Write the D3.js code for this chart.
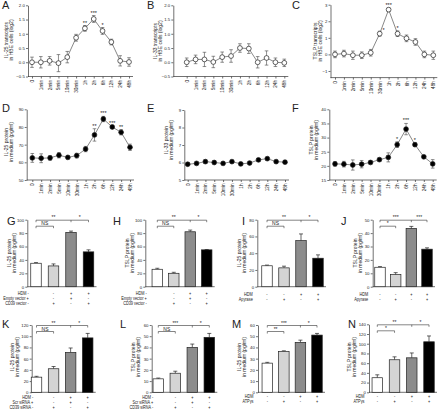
<!DOCTYPE html>
<html><head><meta charset="utf-8">
<script src="https://cdn.jsdelivr.net/npm/d3@7"></script>
<style>
body{margin:0;background:#fff;}
svg text{font-family:"Liberation Sans",Arial,sans-serif;fill:#222;}
</style></head>
<body><svg id="c" width="440" height="414"></svg>
<script>
// ---------- DATA ----------
const timeLabels = ["0","1min","2min","5min","10min","30min","1h","2h","6h","12h","24h","48h"];

const aValues = [0.0, 0.0, 0.05, -0.03, 0.18, 0.86, 1.19, 1.52, 1.1, 0.71, 0.05, 0.01];
const aErrors = [0.18, 0.2, 0.15, 0.3, 0.2, 0.12, 0.1, 0.12, 0.12, 0.1, 0.18, 0.15];
const aSig    = ["","","","","","","**","***","*","","",""];

const bValues = [0.0, 0.1, 0.1, 0.01, 0.18, 0.22, 0.5, 0.48, 0.0, 0.15, 0.0, -0.02];
const bErrors = [0.15, 0.15, 0.25, 0.2, 0.18, 0.22, 0.15, 0.17, 0.2, 0.25, 0.15, 0.13];

const cValues = [0.0, 0.05, -0.05, -0.05, 0.1, 1.25, 2.7, 1.25, 0.97, 0.75, 0.0, -0.05];
const cErrors = [0.2, 0.2, 0.25, 0.2, 0.2, 0.15, 0.1, 0.17, 0.2, 0.2, 0.2, 0.25];
const cSig    = ["","","","","","*","***","*","","","",""];

const dValues = [62.5, 62.3, 62.5, 64.0, 62.8, 63.8, 67.5, 75.5, 84.5, 80.0, 77.0, 68.5];
const dErrors = [2.5, 2.5, 1.3, 1.5, 0.7, 1.3, 1.5, 3.5, 1.5, 0.8, 1.5, 1.8];
const dSig    = ["","","","","","","","**","***","***","**",""];

const eValues = [5.9, 5.95, 6.05, 6.0, 5.95, 6.05, 5.92, 5.97, 6.15, 6.22, 6.05, 6.02];
const eErrors = [0.06, 0.06, 0.1, 0.08, 0.06, 0.06, 0.06, 0.06, 0.07, 0.07, 0.07, 0.08];

const fValues = [20.7, 20.6, 20.3, 20.6, 21.2, 22.2, 23.0, 27.5, 33.0, 27.5, 23.2, 20.7];
const fErrors = [0.8, 1.0, 1.8, 1.3, 0.5, 0.5, 1.6, 1.0, 2.0, 0.6, 0.5, 1.5];
const fSig    = ["","","","","","","","*","***","*","",""];

const aTicks = [-0.5, 0.0, 0.5, 1.0, 1.5, 2.0];
const cTicks = [-1, 0, 1, 2, 3];
const dTicks = [50, 60, 70, 80, 90];
const eTicks = [5, 6, 7, 8, 9];
const fTicks = [15, 20, 25, 30, 35, 40];

const gValues = [35, 31, 81, 52];  const gErrors = [1, 3, 2, 3];
const hValues = [26, 20, 82, 55];  const hErrors = [1.5, 1.5, 2.5, 0.5];
const iValues = [25, 22.5, 55, 34]; const iErrors = [0.8, 2, 8, 4];
const jValues = [14.5, 9, 43.5, 28]; const jErrors = [0.5, 1.5, 1.5, 1];
const kValues = [27, 42, 71, 97];  const kErrors = [1.5, 4, 8, 8];
const lValues = [12, 17, 40, 49];  const lErrors = [0.7, 1.8, 3, 3.5];
const mValues = [26, 36.5, 44.5, 51]; const mErrors = [0.7, 0.5, 2, 1.5];
const nValues = [30, 67, 71, 104]; const nErrors = [6, 6, 10, 12];

const vectorRows = [["HDM","-","-","+","+"],["Empty vector","+","-","+","-"],["CD39 vector","-","+","-","+"]];
const apyraseRows = [["HDM","-","-","+","+"],["Apyrase","-","+","-","+"]];
const sirnaRows = [["HDM","-","-","+","+"],["Scr siRNA","+","-","+","-"],["CD39 siRNA","-","+","-","+"]];
const atpRows = [["HDM","-","-","+","+"],["ATPγs","-","+","-","+"]];

const sigNS  = [["NS","**","*"]];
const sigL   = [["NS","***","*"]];
const sigJ   = [["*","***","***"]];
const sigM   = [["**","***","*"]];
const sigN   = [["*","**","*"]];

const barFills = ["#ffffff","#d4d4d4","#8c8c8c","#000000"];

// ---------- DRAW ----------
const svg = d3.select("#c");
const AX = "#333";
const TF = 4.3; // tick font

function letter(t, x, y){
  svg.append("text").attr("x",x).attr("y",y).attr("font-size",11).text(t);
}
function yTitle(lines, x, y){
  const t = svg.append("text").attr("transform",`translate(${x},${y}) rotate(-90) scale(1,0.9)`)
    .attr("text-anchor","middle").attr("font-size",5);
  lines.forEach((l,i)=> t.append("tspan").attr("x",0).attr("dy", i===0?0:5.6).text(l));
}
function styleAxis(sel){
  sel.selectAll("path,line").attr("stroke",AX).attr("stroke-width",0.7);
  sel.selectAll("text").attr("font-size",TF).attr("fill","#333").attr("font-family","Liberation Sans, Arial, sans-serif");
}

function linePanel(p){
  const x = d3.scalePoint().domain(timeLabels).range([p.x0, p.x1]);
  const y = d3.scaleLinear().domain(p.domain).range([p.yb, p.yt]);
  const g = svg.append("g");
  const ya = g.append("g").attr("transform",`translate(${p.ax},0)`)
    .call(d3.axisLeft(y).tickValues(p.ticks).tickSize(2).tickSizeOuter(0).tickPadding(1.2).tickFormat(p.fmt));
  styleAxis(ya);
  const xa = g.append("g").attr("transform",`translate(0,${p.yb})`)
    .call(d3.axisBottom(x).tickSize(2).tickSizeOuter(0).tickPadding(1));
  xa.select(".domain").remove();
  xa.append("line").attr("x1",p.ax).attr("x2",p.x1+4).attr("y1",0).attr("y2",0);
  styleAxis(xa);
  xa.selectAll(".tick text").attr("font-size",4.7).attr("transform","rotate(-90)").attr("text-anchor","end")
    .attr("dy","0.32em").attr("x",-3.5).attr("y",0);
  const pts = timeLabels.map((t,i)=>({t, v:p.values[i], e:p.errors[i], s:p.sig?p.sig[i]:""}));
  g.append("path").datum(pts).attr("fill","none").attr("stroke","#555").attr("stroke-width",0.7)
    .attr("d", d3.line().x(d=>x(d.t)).y(d=>y(d.v)));
  const eb = g.selectAll(".eb").data(pts).enter().append("g");
  eb.append("line").attr("x1",d=>x(d.t)).attr("x2",d=>x(d.t)).attr("y1",d=>y(d.v-d.e)).attr("y2",d=>y(d.v+d.e))
    .attr("stroke","#444").attr("stroke-width",0.6);
  [-1,1].forEach(sg=>{
    eb.append("line").attr("x1",d=>x(d.t)-1.8).attr("x2",d=>x(d.t)+1.8)
      .attr("y1",d=>y(d.v+sg*d.e)).attr("y2",d=>y(d.v+sg*d.e)).attr("stroke","#444").attr("stroke-width",0.6);
  });
  g.selectAll(".pt").data(pts).enter().append("circle")
    .attr("cx",d=>x(d.t)).attr("cy",d=>y(d.v)).attr("r",2.4)
    .attr("fill",p.open?"#fff":"#000").attr("stroke","#222").attr("stroke-width",0.7);
  g.selectAll(".sg").data(pts.filter(d=>d.s)).enter().append("text")
    .attr("x",d=>x(d.t)+((p.sigDx&&p.sigDx[d.t])||0))
    .attr("y",d=>((p.sigDy&&p.sigDy[d.t]!==undefined)? y(d.v)+p.sigDy[d.t] : y(d.v+d.e)-1))
    .attr("text-anchor","middle").attr("font-size",5.5).text(d=>d.s);
}

function barPanel(p){
  const idx = [0,1,2,3];
  const x = d3.scalePoint().domain(idx).range([p.c0, p.c3]);
  const y = d3.scaleLinear().domain([0,p.max]).range([p.yb, p.yt]);
  const g = svg.append("g");
  const ya = g.append("g").attr("transform",`translate(${p.ax},0)`)
    .call(d3.axisLeft(y).tickValues(d3.range(0,p.max+0.001,p.step)).tickSize(2).tickSizeOuter(0).tickPadding(1.2));
  styleAxis(ya);
  g.append("line").attr("x1",p.ax).attr("x2",p.c3+8).attr("y1",p.yb).attr("y2",p.yb).attr("stroke",AX).attr("stroke-width",0.7);
  const bw = 10.5;
  const bars = idx.map(i=>({i, v:p.values[i], e:p.errors[i]}));
  g.selectAll(".eb").data(bars).enter().append("line")
    .attr("x1",d=>x(d.i)).attr("x2",d=>x(d.i)).attr("y1",d=>y(d.v)).attr("y2",d=>y(d.v+d.e))
    .attr("stroke","#222").attr("stroke-width",0.7);
  g.selectAll(".ec").data(bars).enter().append("line")
    .attr("x1",d=>x(d.i)-2).attr("x2",d=>x(d.i)+2).attr("y1",d=>y(d.v+d.e)).attr("y2",d=>y(d.v+d.e))
    .attr("stroke","#222").attr("stroke-width",0.7);
  g.selectAll(".bar").data(bars).enter().append("rect")
    .attr("x",d=>x(d.i)-bw/2).attr("width",bw).attr("y",d=>y(d.v)).attr("height",d=>p.yb-y(d.v))
    .attr("fill",d=>barFills[d.i]).attr("stroke","#222").attr("stroke-width",0.7);
  // brackets
  const s = p.sig[0];
  const top = p.yt+0.5, low = p.yt+6.5;
  g.append("path").attr("d",`M${x(0)},${low+2}V${low}H${x(1)}V${low+2}`)
      .attr("fill","none").attr("stroke","#333").attr("stroke-width",0.6);
  g.append("path").attr("d",`M${x(0)},${top+2}V${top}H${x(3)}V${top+2}M${x(2)},${top}V${top+2}`)
    .attr("fill","none").attr("stroke","#333").attr("stroke-width",0.6);
  const st = (t,xx,yy)=>g.append("text").attr("x",xx).attr("y",yy).attr("text-anchor","middle").attr("font-size",5).text(t);
  st(s[0], (x(0)+x(1))/2, low-0.8);
  st(s[1], (x(0)+x(2))/2, top-0.8);
  st(s[2], (x(2)+x(3))/2, top-0.8);
  // rows
  const lab = (t,xx,yy,anchor)=>g.append("text").attr("transform",`translate(${xx},${yy}) scale(0.8,1)`)
      .attr("text-anchor",anchor).attr("font-size",4.8).text(t);
  p.rows.forEach((r,k)=>{
    const yy = p.rowY + k*5;
    if(p.attach){
      lab(r[0]+" "+r[1], p.ax+1.5, yy, "end");
    } else {
      lab(r[0], p.ax-4.5, yy, "end");
      lab(r[1], x(0), yy, "middle");
    }
    [1,2,3].forEach(i=> lab(r[i+1], x(i), yy, "middle"));
  });
}

const f1 = d3.format(".1f");
const f0 = d3.format("d");

// Row 1
linePanel({values:aValues, errors:aErrors, sig:aSig, domain:[-0.5,2.0], ticks:aTicks, fmt:f1, ax:28, x0:32, x1:129, yb:76.5, yt:5.3, open:true});
linePanel({values:bValues, errors:bErrors, domain:[-0.5,2.0], ticks:aTicks, fmt:f1, ax:173.3, x0:186.7, x1:284.3, yb:76.5, yt:5.3, open:true});
linePanel({values:cValues, errors:cErrors, sig:cSig, domain:[-1.4,3], ticks:cTicks, fmt:f0, ax:330.5, x0:335, x1:433.3, yb:77.6, yt:4.7, open:true,
  sigDx:{"30min":4}, sigDy:{"30min":-1.5}});
// Row 2
linePanel({values:dValues, errors:dErrors, sig:dSig, domain:[50,90], ticks:dTicks, fmt:f0, ax:26.7, x0:32.3, x1:130, yb:180, yt:109.3, open:false});
linePanel({values:eValues, errors:eErrors, domain:[5,9], ticks:eTicks, fmt:f0, ax:184.3, x0:187.7, x1:285, yb:180, yt:110, open:false});
linePanel({values:fValues, errors:fErrors, sig:fSig, domain:[15,40], ticks:fTicks, fmt:f0, ax:329.3, x0:335, x1:432.7, yb:180, yt:109.3, open:false});

letter("A",2,9); letter("B",147,9); letter("C",292,9);
letter("D",2,112); letter("E",147,112); letter("F",292,112);
yTitle(["IL-25 transcripts","in HBE cells (log2)"], 8, 40);
yTitle(["IL-33 transcripts","in HBE cells (log2)"], 156.5, 41);
yTitle(["TSLP transcripts","in HBE cells (log2)"], 317, 41);
yTitle(["IL-25 protein","in medium (pg/ml)"], 8, 142);
yTitle(["IL-33 protein","in medium (pg/ml)"], 168, 140);
yTitle(["TSLP protein","in medium (pg/ml)"], 313, 140);

// Row 3
barPanel({values:gValues, errors:gErrors, max:100, step:20, ax:27.3, c0:36, c3:88.5, yb:286.7, yt:219.7, sig:sigNS, rows:vectorRows, rowY:295, attach:true});
barPanel({values:hValues, errors:hErrors, max:100, step:20, ax:145.3, c0:157.3, c3:206.7, yb:286.7, yt:219.7, sig:sigNS, rows:vectorRows, rowY:295, attach:true});
barPanel({values:iValues, errors:iErrors, max:80, step:20, ax:257.3, c0:267, c3:318, yb:286.7, yt:219.7, sig:sigNS, rows:apyraseRows, rowY:295.5, attach:false});
barPanel({values:jValues, errors:jErrors, max:50, step:10, ax:372.7, c0:380, c3:427, yb:286.7, yt:219.7, sig:sigJ, rows:apyraseRows, rowY:295.5, attach:false});
// Row 4
barPanel({values:kValues, errors:kErrors, max:120, step:20, ax:31.7, c0:36.5, c3:87.7, yb:392.3, yt:325, sig:sigNS, rows:sirnaRows, rowY:398.8, attach:true});
barPanel({values:lValues, errors:lErrors, max:60, step:10, ax:151.7, c0:158.3, c3:209.3, yb:392.3, yt:325, sig:sigL, rows:sirnaRows, rowY:398.8, attach:true});
barPanel({values:mValues, errors:mErrors, max:60, step:10, ax:258, c0:267.3, c3:317, yb:392.3, yt:325, sig:sigM, rows:atpRows, rowY:398.3, attach:false});
barPanel({values:nValues, errors:nErrors, max:140, step:20, ax:369, c0:377.3, c3:429, yb:392.3, yt:324.3, sig:sigN, rows:atpRows, rowY:398.3, attach:false});

letter("G",7,225); letter("H",113,225); letter("I",242,225); letter("J",341,225);
letter("K",2,328); letter("L",120,328); letter("M",232,328); letter("N",348,328);
yTitle(["IL-25 protein","in medium (pg/ml)"], 11, 253);
yTitle(["TSLP protein","in medium (pg/ml)"], 129, 253);
yTitle(["IL-25 protein","in medium (pg/ml)"], 241, 253);
yTitle(["TSLP protein","in medium (pg/ml)"], 357, 253);
yTitle(["IL-25 protein","in medium (pg/ml)"], 13.5, 357);
yTitle(["TSLP protein","in medium (pg/ml)"], 135, 357);
yTitle(["IL-25 protein","in medium (pg/ml)"], 241, 357);
yTitle(["TSLP protein","in medium (pg/ml)"], 351, 357);
</script></body></html>
